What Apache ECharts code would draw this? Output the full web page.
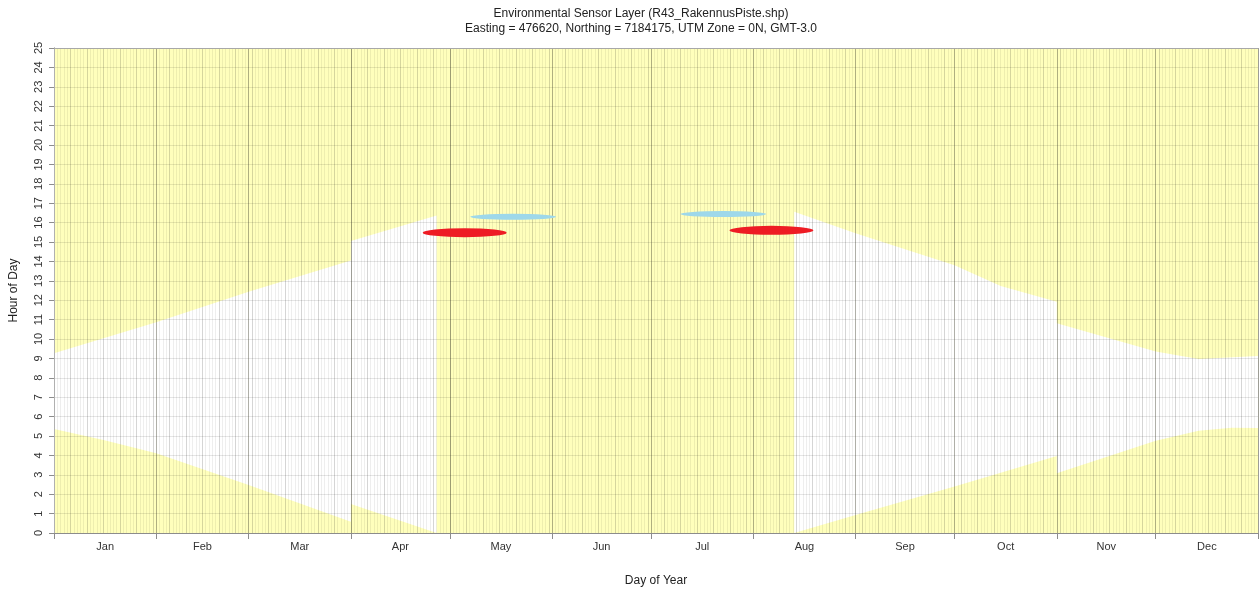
<!DOCTYPE html>
<html><head><meta charset="utf-8">
<script src="https://cdn.jsdelivr.net/npm/echarts@6/dist/echarts.min.js"></script>
<style>html,body{margin:0;padding:0;background:#fff}#c{width:1259px;height:594px}</style>
</head><body><div id="c"></div>
<script>
// ---- data ----
const monthNames = ['Jan','Feb','Mar','Apr','May','Jun','Jul','Aug','Sep','Oct','Nov','Dec'];
const monthStarts = [0,31,59,90,120,151,181,212,243,273,304,334,365];
const hourTicks = [0,1,2,3,4,5,6,7,8,9,10,11,12,13,14,15,16,17,18,19,20,21,22,23,24,25];

// daylight band 1 (Jan -> late Apr), DST jump at day 90
const band1SetDays  = [0, 31, 59, 90, 90, 116];
const band1SetHours = [9.26, 10.86, 12.44, 14.04, 15.05, 16.36];
const band1RiseDays  = [0, 15, 31, 59, 90, 90, 116];
const band1RiseHours = [5.36, 4.8, 4.11, 2.47, 0.58, 1.49, 0.0];

// daylight band 2 (mid Aug -> Dec), DST jump at day 304
const band2SetDays  = [224.4, 243, 273, 287, 304, 304, 334, 347, 365];
const band2SetHours = [16.56, 15.45, 13.8, 12.73, 11.92, 10.81, 9.35, 8.97, 9.12];
const band2RiseDays  = [224.4, 243, 273, 287, 304, 304, 334, 347, 357, 365];
const band2RiseHours = [0.0, 0.93, 2.4, 3.11, 3.97, 3.08, 4.76, 5.27, 5.43, 5.41];

// sensor events
const redDays  = [124.5, 217.5];
const redHours = [15.48, 15.6];
const blueDays  = [139.2, 202.9];
const blueHours = [16.3, 16.44];

// ---- build ----
const monthMids = monthStarts.slice(0, 12).map((s, i) => (s + monthStarts[i + 1]) / 2);
const bands = [
  {setD: band1SetDays, setH: band1SetHours, riseD: band1RiseDays, riseH: band1RiseHours},
  {setD: band2SetDays, setH: band2SetHours, riseD: band2RiseDays, riseH: band2RiseHours}
];
const FONT = 'Liberation Sans, Arial, sans-serif';

const chart = echarts.init(document.getElementById('c'), null, {renderer: 'canvas'});
const hiddenAxisBits = {axisLine: {show: false}, axisTick: {show: false}, axisLabel: {show: false}};

chart.setOption({
  animation: false,
  backgroundColor: '#ffffff',
  graphic: [
    {type: 'text', x: 641, y: 8, z: 10,
     style: {text: 'Environmental Sensor Layer (R43_RakennusPiste.shp)', x: 0, y: 0, textAlign: 'center', textVerticalAlign: 'top', font: '12px ' + FONT, fill: '#222'}},
    {type: 'text', x: 641, y: 23, z: 10,
     style: {text: 'Easting = 476620, Northing = 7184175, UTM Zone = 0N, GMT-3.0', x: 0, y: 0, textAlign: 'center', textVerticalAlign: 'top', font: '12px ' + FONT, fill: '#222'}}
  ],
  grid: {left: 53, right: 1, top: 48, bottom: 61, show: true, backgroundColor: '#ffffbc', borderWidth: 0},
  xAxis: [
    {type: 'value', min: 0, max: 365, position: 'bottom', z: 3,
     name: 'Day of Year', nameLocation: 'middle', nameGap: 42,
     nameTextStyle: {fontFamily: FONT, fontSize: 12, color: '#222'},
     axisLine: {show: true, lineStyle: {color: '#8c8c8c', width: 1}},
     axisTick: {show: true, length: 6, customValues: monthStarts, lineStyle: {color: '#8c8c8c'}},
     axisLabel: {show: true, customValues: monthMids, margin: 8, fontFamily: FONT, fontSize: 11, color: '#333',
       formatter: v => { const i = monthMids.indexOf(v); return i >= 0 ? monthNames[i] : ''; }},
     splitLine: {show: true, lineStyle: {color: 'rgba(70,70,50,0.36)', width: 1}}},
    Object.assign({type: 'value', min: 0, max: 365, interval: 1, position: 'bottom', z: 3,
     splitLine: {show: true, lineStyle: {color: 'rgba(0,0,0,0.065)', width: 1}}}, hiddenAxisBits),
    Object.assign({type: 'value', min: 0, max: 365, interval: 5, position: 'bottom', z: 3,
     splitLine: {show: true, lineStyle: {color: 'rgba(0,0,0,0.10)', width: 1}}}, hiddenAxisBits),
    {type: 'value', min: 0, max: 365, position: 'top', z: 3,
     axisLine: {show: true, lineStyle: {color: '#a8a8a8'}}, axisTick: {show: false}, axisLabel: {show: false}, splitLine: {show: false}}
  ],
  yAxis: [
    {type: 'value', min: hourTicks[0], max: hourTicks[hourTicks.length - 1], interval: 1, z: 3,
     name: 'Hour of Day', nameLocation: 'middle', nameGap: 34, nameRotate: 90,
     nameTextStyle: {fontFamily: FONT, fontSize: 12, color: '#222'},
     axisLine: {show: true, lineStyle: {color: '#8c8c8c'}},
     axisTick: {show: true, length: 5, lineStyle: {color: '#8c8c8c'}},
     axisLabel: {show: true, rotate: 90, margin: 10, fontFamily: FONT, fontSize: 11, color: '#333'},
     splitLine: {show: true, lineStyle: {color: 'rgba(0,0,0,0.10)', width: 1}}},
    {type: 'value', min: 0, max: 25, position: 'right', z: 3,
     axisLine: {show: true, lineStyle: {color: '#b0b0b0'}}, axisTick: {show: false}, axisLabel: {show: false}, splitLine: {show: false}}
  ],
  series: [
    {type: 'custom', name: 'daylight', xAxisIndex: 0, yAxisIndex: 0, z: 2, silent: true,
     data: bands.map((b, i) => [i]),
     renderItem: (params, api) => {
       const b = bands[api.value(0)];
       const pts = [];
       for (let k = 0; k < b.setD.length; k++) pts.push(api.coord([b.setD[k], b.setH[k]]));
       for (let k = b.riseD.length - 1; k >= 0; k--) pts.push(api.coord([b.riseD[k], b.riseH[k]]));
       return {type: 'polygon', shape: {points: pts}, style: {fill: '#ffffff', stroke: null}};
     }},
    {type: 'scatter', name: 'red', xAxisIndex: 0, yAxisIndex: 0, z: 6, silent: true,
     symbol: 'circle', symbolSize: [84, 9],
     itemStyle: {color: '#ee1c24', opacity: 1},
     data: redDays.map((d, i) => [d, redHours[i]])},
    {type: 'scatter', name: 'blue', xAxisIndex: 0, yAxisIndex: 0, z: 6, silent: true,
     symbol: 'circle', symbolSize: [86, 6],
     itemStyle: {color: '#9ed8ea', opacity: 1},
     data: blueDays.map((d, i) => [d, blueHours[i]])}
  ]
});
</script></body></html>
